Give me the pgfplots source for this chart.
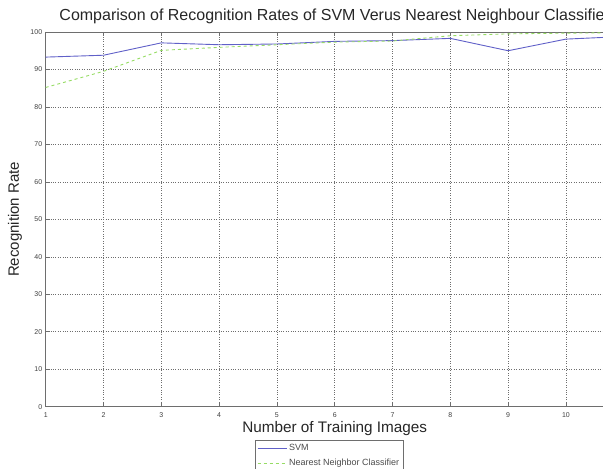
\documentclass[border=0pt]{standalone}
\usepackage{fontspec}
\setmainfont{Liberation Sans}
\usepackage{pgfplots}
\pgfplotsset{compat=1.18}

\definecolor{svmBlue}{RGB}{96, 96, 200}
\definecolor{nnGreen}{RGB}{150, 220, 100}
\definecolor{axGrey}{RGB}{110, 110, 110}

\begin{document}
\begin{tikzpicture}
% the reference is cropped on the right, so clip the page to its size
\path[use as bounding box, clip] (0pt,0pt) rectangle (603pt,469pt);
\begin{axis}[
    at={(45.7pt,62.3pt)}, anchor=south west,
    scale only axis,
    width=578pt, height=374.7pt,
    xmin=1, xmax=11, ymin=0, ymax=100,
    xtick={1,...,10}, ytick={0,10,...,100},
    axis line style={axGrey, line width=0.8pt},
    tick style={axGrey, line width=0.6pt},
    tick align=inside, major tick length=4pt,
    grid=major,
    grid style={axGrey, dotted, line width=0.6pt},
    every tick label/.append style={font=\fontsize{7}{8}\selectfont, text=black!75},
    xticklabel style={yshift=-2.5pt},
    /pgf/number format/assume math mode=true,
    title={Comparison of Recognition Rates of SVM Verus Nearest Neighbour Classifier},
    title style={at={(axis description cs:0.5,1.027)}, anchor=center,
        font=\fontsize{16}{18}\selectfont, text=black!85},
    xlabel={Number of Training Images},
    xlabel style={at={(axis description cs:0.5,-0.0574)}, anchor=center,
        font=\fontsize{15.3}{17}\selectfont, text=black!85},
    ylabel={Recognition Rate},
    ylabel style={at={(axis description cs:-0.0531,0.5)}, anchor=center,
        font=\fontsize{15}{17}\selectfont, text=black!85},
    legend style={at={(axis description cs:0.362,-0.089)}, anchor=north west,
        draw=axGrey, font=\fontsize{9}{10}\selectfont, text=black!70,
        row sep=3pt, inner sep=2pt},
    legend image code/.code={\draw[#1] (0pt,0pt) -- (29pt,0pt);},
    legend cell align=left,
    every axis plot/.append style={line width=0.9pt},
]
\addplot [svmBlue] coordinates {
(1,93.3) (2,93.8) (3,97.1) (4,96.6) (5,96.8) (6,97.5)
(7,97.7) (8,98.3) (9,95.0) (10,98.1) (11,98.8)
};
\addlegendentry{SVM}
\addplot [nnGreen, dashed] coordinates {
(1,85.2) (2,89.5) (3,95.1) (4,95.9) (5,96.6) (6,97.3)
(7,97.6) (8,99.0) (9,99.5) (10,99.7) (11,99.8)
};
\addlegendentry{Nearest Neighbor Classifier}
\end{axis}
\end{tikzpicture}
\end{document}
